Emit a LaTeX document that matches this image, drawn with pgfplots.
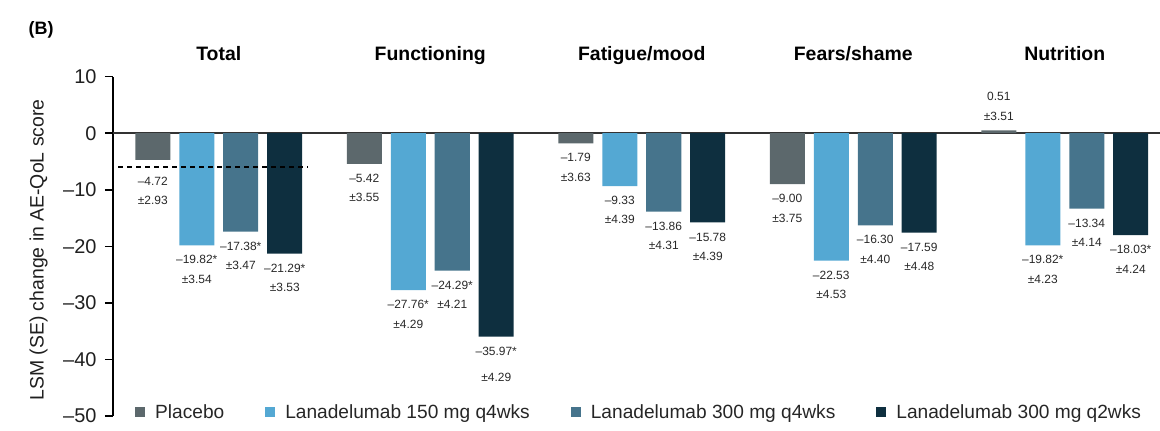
\documentclass[border=0pt]{standalone}
\usepackage{pgfplots}
\pgfplotsset{compat=1.18}
\usepackage{pgfplotstable}
\usepackage{fontspec}
\setmainfont{Liberation Sans}
\definecolor{cPla}{RGB}{92,104,108}
\definecolor{cL150}{RGB}{84,168,211}
\definecolor{cL300a}{RGB}{70,116,140}
\definecolor{cL300b}{RGB}{14,47,63}
\definecolor{cTxt}{RGB}{40,40,40}
\protected\def\lb#1#2{#1\\#2}
\protected\def\lbw#1#2{#1\\[7bp]#2}
\protected\def\lbt#1#2{\rule{0pt}{15bp}#1\\#2}

\pgfplotstableread{
x y lab
-0.312 -4.72 {\lbt{–4.72}{±2.93}}
0.688 -5.42 {\lb{–5.42}{±3.55}}
1.688 -1.79 {\lb{–1.79}{±3.63}}
2.688 -9.00 {\lb{–9.00}{±3.75}}
3.688 0.51 {\lb{0.51}{±3.51}}
}\tPla
\pgfplotstableread{
x y lab
-0.104 -19.82 {\lb{–19.82*}{±3.54}}
0.896 -27.76 {\lb{–27.76*}{±4.29}}
1.896 -9.33 {\lb{–9.33}{±4.39}}
2.896 -22.53 {\lb{–22.53}{±4.53}}
3.896 -19.82 {\lb{–19.82*}{±4.23}}
}\tLa
\pgfplotstableread{
x y lab
0.104 -17.38 {\lb{–17.38*}{±3.47}}
1.104 -24.29 {\lb{–24.29*}{±4.21}}
2.104 -13.86 {\lb{–13.86}{±4.31}}
3.104 -16.30 {\lb{–16.30}{±4.40}}
4.104 -13.34 {\lb{–13.34}{±4.14}}
}\tLb
\pgfplotstableread{
x y lab
0.312 -21.29 {\lb{–21.29*}{±3.53}}
1.312 -35.97 {\lbw{–35.97*}{±4.29}}
2.312 -15.78 {\lb{–15.78}{±4.39}}
3.312 -17.59 {\lb{–17.59}{±4.48}}
4.312 -18.03 {\lb{–18.03*}{±4.24}}
}\tLc

\pgfplotsset{
  mybar/.style={
    ybar, bar width=0.1655, bar shift=0pt, draw=none, fill=#1,
    point meta=explicit symbolic,
    visualization depends on={rawy \as \yv},
    nodes near coords,
    every node near coord/.append style={align=center, text=cTxt,
      font=\fontsize{12}{19.5}\selectfont, inner ysep=10bp, inner xsep=0bp,
      /utils/exec={\ifdim\yv pt<0pt \tikzset{anchor=north}\else\tikzset{anchor=south}\fi}},
    legend image code/.code={\fill[#1] (0bp,-5bp) rectangle (10bp,5bp);},
  },
}

\begin{document}
\begin{tikzpicture}
\useasboundingbox (-113bp,-15bp) rectangle (1047bp,416bp);
\begin{axis}[
  x=211.5bp, y=5.655bp,
  xmin=-0.5, xmax=4.45, ymin=-50, ymax=10,
  enlargelimits=false,
  axis x line=none, axis y line=left,
  axis line style={-, line width=1.5bp, black},
  ytick={-50,-40,...,10},
  yticklabels={–50,–40,–30,–20,–10,0,10},
  tick align=outside, major tick length=8bp,
  ytick style={line width=1.5bp, black},
  yticklabel style={font=\fontsize{20}{24}\selectfont, text=black!88, xshift=-5bp},
  xtick=\empty,
  clip=false,
  legend style={at={(axis cs:-0.396,-49.3)}, anchor=west, draw=none, fill=none,
    inner sep=0pt, font=\fontsize{19.2}{23}\selectfont, text=black!85,
    /tikz/every odd column/.append style={column sep=8bp},
    /tikz/every even column/.append style={column sep=39bp}},
  legend columns=4,
  legend cell align=left,
]
\draw[line width=1.5bp, black!80] (axis cs:-0.5,0) -- (axis cs:4.45,0);
\addplot[mybar=cPla] table[x=x, y=y, meta=lab] {\tPla};
\addlegendentry{Placebo}
\addplot[mybar=cL150] table[x=x, y=y, meta=lab] {\tLa};
\addlegendentry{Lanadelumab 150 mg q4wks}
\addplot[mybar=cL300a] table[x=x, y=y, meta=lab] {\tLb};
\addlegendentry{Lanadelumab 300 mg q4wks}
\addplot[mybar=cL300b] table[x=x, y=y, meta=lab] {\tLc};
\addlegendentry{Lanadelumab 300 mg q2wks}
\addplot[forget plot, black, line width=1.6bp, dash pattern=on 5bp off 4bp] coordinates {(-0.476,-6) (0.422,-6)};

\node[font=\bfseries\fontsize{19.5}{23}\selectfont, anchor=base] at (axis cs:0,12.9) {Total};
\node[font=\bfseries\fontsize{19.5}{23}\selectfont, anchor=base] at (axis cs:1,12.9) {Functioning};
\node[font=\bfseries\fontsize{19.5}{23}\selectfont, anchor=base] at (axis cs:2,12.9) {Fatigue/mood};
\node[font=\bfseries\fontsize{19.5}{23}\selectfont, anchor=base] at (axis cs:3,12.9) {Fears/shame};
\node[font=\bfseries\fontsize{19.5}{23}\selectfont, anchor=base] at (axis cs:4,12.9) {Nutrition};
\node[font=\bfseries\fontsize{18}{22}\selectfont] at (axis cs:-0.84,18.25) {(B)};
\node[rotate=90, font=\fontsize{19.5}{23}\selectfont, text=black!88] at ([xshift=-74.5bp]axis cs:-0.5,-20.65) {LSM (SE) change in AE-QoL score};
\end{axis}
\end{tikzpicture}
\end{document}
